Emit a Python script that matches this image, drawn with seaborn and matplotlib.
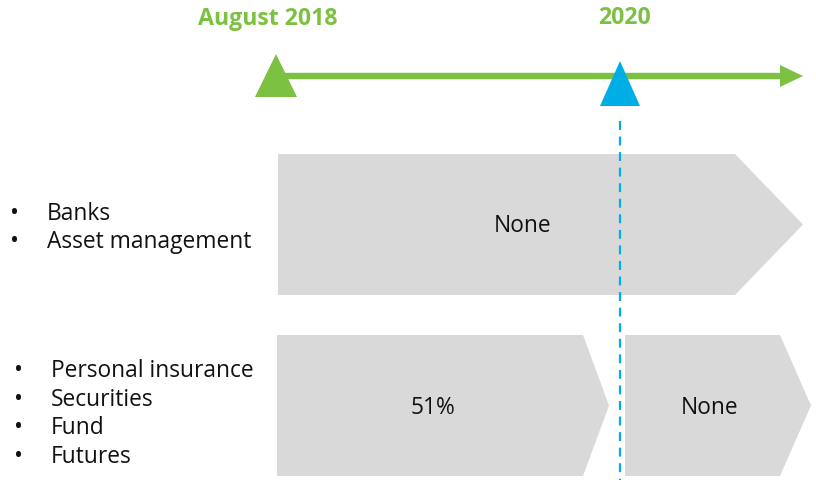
import numpy as np
import pandas as pd
import seaborn as sns
import matplotlib.pyplot as plt
from matplotlib.patches import Polygon

# Data
milestones = ['August 2018', '2020']
row_top_items = ['Banks', 'Asset management']
row_bottom_items = ['Personal insurance', 'Securities', 'Fund', 'Futures']
row_top_labels = ['None']
row_bottom_labels = ['51%', 'None']

GREEN = '#7dc142'
BLUE = '#00aee6'
GREY = '#d9d9d9'
TXT = '#111111'
FS = 16.4

sns.set_theme(style='white')
plt.rcParams['font.family'] = ['Open Sans', 'DejaVu Sans']

fig = plt.figure(figsize=(8.16, 4.81), dpi=100)
ax = fig.add_axes([0, 0, 1, 1])
ax.set_xlim(0, 816)
ax.set_ylim(481, 0)
ax.axis('off')

# timeline (pixel layout)
tl = pd.DataFrame({'x': [278, 782], 'y': [77, 77]})
sns.lineplot(data=tl, x='x', y='y', color=GREEN, linewidth=4.6, ax=ax)
ax.add_patch(Polygon([[780, 66], [803, 77], [780, 88]], closed=True, color=GREEN, lw=0))

# milestone markers
ax.add_patch(Polygon([[255, 98], [276, 55], [297, 98]], closed=True, color=GREEN, lw=0, zorder=3))
ax.add_patch(Polygon([[600, 107], [620, 62], [640, 107]], closed=True, color=BLUE, lw=0, zorder=3))
ax.text(268, 19, milestones[0], color=GREEN, fontsize=16.7, fontweight='bold', ha='center', va='center')
ax.text(625, 18, milestones[1], color=GREEN, fontsize=16.7, fontweight='bold', ha='center', va='center')

# dashed 2020 line
ax.plot([620, 620], [122, 481], color=BLUE, lw=1.6, ls=(0, (4, 3)), zorder=4)


def chevron(x0, x1, tip, y0, y1):
    ym = (y0 + y1) / 2
    ax.add_patch(Polygon([[x0, y0], [x1, y0], [tip, ym], [x1, y1], [x0, y1]],
                         closed=True, color=GREY, lw=0, zorder=1))


# top row
chevron(278, 735, 803, 155, 296)
ax.text(523, 226, row_top_labels[0], fontsize=FS, ha='center', va='center', color=TXT)

# bottom row
chevron(277, 583, 609, 336, 477)
chevron(625, 780, 811, 336, 477)
ax.text(433, 408, row_bottom_labels[0], fontsize=FS, ha='center', va='center', color=TXT)
ax.text(710, 408, row_bottom_labels[1], fontsize=FS, ha='center', va='center', color=TXT)

# bullet lists
for i, t in enumerate(row_top_items):
    y = 214 + i * 28
    ax.text(15, y, '•', fontsize=17, ha='center', va='center', color=TXT)
    ax.text(47, y, t, fontsize=FS, ha='left', va='center', color=TXT)
for i, t in enumerate(row_bottom_items):
    y = 371 + i * 28.7
    ax.text(18, y, '•', fontsize=17, ha='center', va='center', color=TXT)
    ax.text(51, y, t, fontsize=FS, ha='left', va='center', color=TXT)

fig.savefig('out.png', dpi=100)
